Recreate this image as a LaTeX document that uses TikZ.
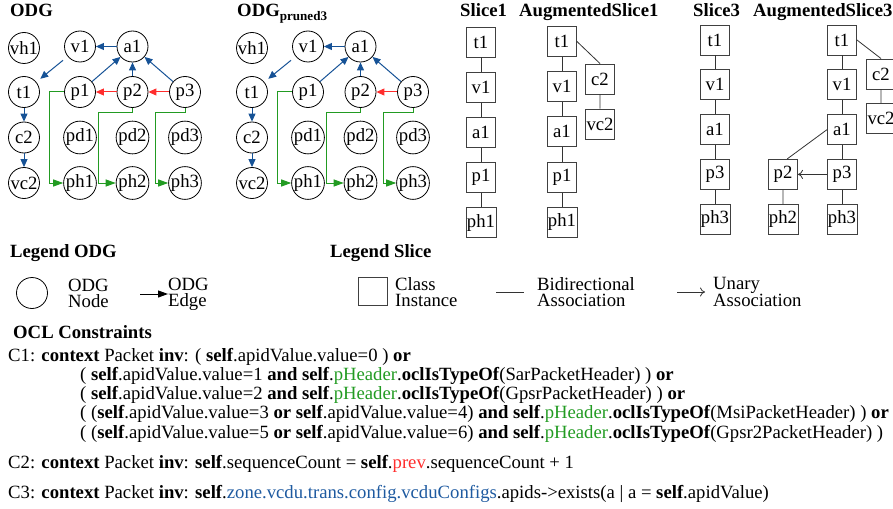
\documentclass[tikz,border=0pt]{standalone}
\usepackage{fontspec}
\setmainfont{Liberation Serif}
\usepackage{xcolor}
\usepackage{tikz}
\usetikzlibrary{arrows.meta, positioning}
\definecolor{odgblue}{RGB}{22,82,150}
\definecolor{odgred}{RGB}{255,45,45}
\definecolor{odggreen}{RGB}{34,155,34}
\definecolor{navblue}{RGB}{30,90,160}
\tikzstyle{odgnode}   = [circle, draw=black, line width=0.8pt,
    minimum size=31pt, inner sep=0pt]
\tikzstyle{slicebox}  = [rectangle, draw=black!75, line width=0.9pt,
    minimum width=29pt, minimum height=30pt, inner sep=1pt]
\tikzstyle{heading}   = [font=\fontsize{18.7}{19}\selectfont\bfseries,
    anchor=base west, inner sep=0pt]
\tikzstyle{legtext}   = [align=left, anchor=west, inner sep=0pt,
    font=\fontsize{18.7}{16}\selectfont]
\tikzstyle{ocl}       = [align=left, inner sep=0pt]
\tikzstyle{blueedge}  = [-{Triangle[length=8pt, width=7pt]}, odgblue, line width=1pt]
\tikzstyle{rededge}   = [-{Triangle[length=8pt, width=7pt]}, odgred, line width=1pt]
\tikzstyle{greenedge} = [-{Triangle[length=10pt, width=7pt]}, odggreen, line width=1pt]
\tikzstyle{odgarrow}  = [-{Triangle[length=10pt, width=7pt]}, black, line width=1pt]
\tikzstyle{assoc}     = [black!80, line width=0.8pt]
\tikzstyle{unary}     = [-{To[length=5pt, width=9pt]}, black!80, line width=0.8pt]

\begin{document}
\begin{tikzpicture}[x=1pt, y=-1pt, node distance=45.5pt and 52.5pt, on grid,
    every node/.style={font=\fontsize{18.7}{19.2}\selectfont}]
  \useasboundingbox (0,0) rectangle (893,508);

  % headings
  \node[heading] (odgtitle)  at (10,17)  {ODG};
  \node[heading] (prunedtitle) at (237,17) {ODG\textsubscript{pruned3}};
  \node[heading] (s1title)   at (460,17) {Slice1};
  \node[heading] (as1title)  at (519,17) {AugmentedSlice1};
  \node[heading] (s3title)   at (693,17) {Slice3};
  \node[heading] (as3title)  at (753,17) {AugmentedSlice3};

  % object dependency graphs
  \foreach \pre/\dx in {g/0, gp/228} {
    \begin{scope}[xshift=\dx pt, name prefix=\pre-]
      \node[odgnode] (t1) at (24,92) {t1};
      \node[odgnode, above=44pt of t1] (vh1) {vh1};
      \node[odgnode, below=of t1] (c2)  {c2};
      \node[odgnode, below=of c2] (vc2) {vc2};
      \node[odgnode, right=56pt of t1] (p1) {p1};
      \node[odgnode, right=of p1] (p2) {p2};
      \node[odgnode, right=of p2] (p3) {p3};
      \node[odgnode, above=of p1] (v1) {v1};
      \node[odgnode, above=of p2] (a1) {a1};
      \node[odgnode, below=of p1] (pd1) {pd1};
      \node[odgnode, below=of p2] (pd2) {pd2};
      \node[odgnode, below=of p3] (pd3) {pd3};
      \node[odgnode, below=of pd1] (ph1) {ph1};
      \node[odgnode, below=of pd2] (ph2) {ph2};
      \node[odgnode, below=of pd3] (ph3) {ph3};

      \draw[blueedge] (a1) -- (v1);
      \draw[blueedge, shorten <=6pt, shorten >=5pt] (v1) -- (t1);
      \draw[blueedge] (p1) -- (a1);
      \draw[blueedge] (p2) -- (a1);
      \draw[blueedge] (p3) -- (a1);
      \draw[blueedge] (t1) -- (c2);
      \draw[blueedge] (c2) -- (vc2);
      \draw[rededge] (p3) -- (p2);
      % header edges
      \draw[greenedge] (p1.west) -- ++(-14.5,0) |- (ph1.west);
      \draw[greenedge] (p2.south) |- ++(-34,4.5) |- (ph2.west);
      \draw[greenedge] (p3.south) |- ++(-30,4.5) |- (ph3.west);
    \end{scope}
  }
  \draw[rededge] (g-p2) -- (g-p1);

  % slices
  \begin{scope}[name prefix=s1-, node distance=45.2pt]
    \node[slicebox] (t1) at (481,42) {t1};
    \node[slicebox, below=of t1] (v1)  {v1};
    \node[slicebox, below=of v1] (a1)  {a1};
    \node[slicebox, below=of a1] (p1)  {p1};
    \node[slicebox, below=of p1] (ph1) {ph1};
    \draw[assoc] (t1) -- (v1) (v1) -- (a1) (a1) -- (p1) (p1) -- (ph1);
  \end{scope}
  \begin{scope}[name prefix=as1-, node distance=45.2pt]
    \node[slicebox] (t1) at (562,41.5) {t1};
    \node[slicebox, below=of t1] (v1)  {v1};
    \node[slicebox, below=of v1] (a1)  {a1};
    \node[slicebox, below=of a1] (p1)  {p1};
    \node[slicebox, below=of p1] (ph1) {ph1};
    \node[slicebox] (c2) at (600,79) {c2};
    \node[slicebox, below=of c2] (vc2) {vc2};
    \draw[assoc] (t1) -- (v1) (v1) -- (a1) (a1) -- (p1) (p1) -- (ph1);
    \draw[assoc] (t1.east) -- (c2.north) (c2) -- (vc2);
  \end{scope}
  \begin{scope}[name prefix=s3-, node distance=44.8pt]
    \node[slicebox] (t1) at (715,40) {t1};
    \node[slicebox, below=of t1] (v1)  {v1};
    \node[slicebox, below=of v1] (a1)  {a1};
    \node[slicebox, below=of a1] (p3)  {p3};
    \node[slicebox, below=of p3] (ph3) {ph3};
    \draw[assoc] (t1) -- (v1) (v1) -- (a1) (a1) -- (p3) (p3) -- (ph3);
  \end{scope}
  \begin{scope}[name prefix=as3-, node distance=44.8pt and 59pt]
    \node[slicebox] (t1) at (842,40) {t1};
    \node[slicebox, below=of t1] (v1)  {v1};
    \node[slicebox, below=of v1] (a1)  {a1};
    \node[slicebox, below=of a1] (p3)  {p3};
    \node[slicebox, below=of p3] (ph3) {ph3};
    \node[slicebox] (c2) at (881,74) {c2};
    \node[slicebox, below=of c2] (vc2) {vc2};
    \node[slicebox, left=of p3] (p2)  {p2};
    \node[slicebox, below=of p2] (ph2) {ph2};
    \draw[assoc] (t1) -- (v1) (v1) -- (a1) (a1) -- (p3) (p3) -- (ph3);
    \draw[assoc] (t1.east) -- (c2.north) (c2) -- (vc2);
    \draw[assoc] (a1.west) -- (p2.75) (p2) -- (ph2);
    \draw[unary] (p3) -- (p2);
  \end{scope}

  % legend
  \node[heading] (legodg) at (10,257) {Legend ODG};
  \node[odgnode] (legnode) at (32,293) {};
  \node[legtext] (legnodetxt) at (68,293) {ODG\\Node};
  \coordinate (legedgeA) at (140,294);
  \node[legtext] (legedgetxt) at (168,294) {ODG\\Edge};
  \draw[odgarrow] (legedgeA) -- (legedgetxt.west);

  \node[heading] (legslice) at (330,257) {Legend Slice};
  \node[slicebox, minimum height=28pt] (legbox) at (372.5,291) {};
  \node[legtext] (legboxtxt) at (395,292) {Class\\Instance};
  \coordinate (legbiA) at (496,292);
  \coordinate (legbiB) at (524,292);
  \draw[assoc] (legbiA) -- (legbiB);
  \node[legtext] (legbitxt) at (537,292) {Bidirectional\\Association};
  \coordinate (legunA) at (677,292);
  \coordinate (legunB) at (705,292);
  \draw[unary] (legunA) -- (legunB);
  \node[legtext] (leguntxt) at (713,292) {Unary\\Association};

  % constraints
  \node[heading] (ocltitle) at (13,338) {OCL Constraints};
  \node[ocl, anchor=north west] (c1) at (8,348) {C1: \textbf{context} Packet \textbf{inv}: ( \textbf{self}.apidValue.value=0 ) \textbf{or}\\
    \hspace*{72pt}( \textbf{self}.apidValue.value=1 \textbf{and self}.\textcolor{odggreen}{pHeader}.\textbf{oclIsTypeOf}(SarPacketHeader) ) \textbf{or}\\
    \hspace*{72pt}( \textbf{self}.apidValue.value=2 \textbf{and self}.\textcolor{odggreen}{pHeader}.\textbf{oclIsTypeOf}(GpsrPacketHeader) ) \textbf{or}\\
    \hspace*{72pt}( (\textbf{self}.apidValue.value=3 \textbf{or self}.apidValue.value=4) \textbf{and self}.\textcolor{odggreen}{pHeader}.\textbf{oclIsTypeOf}(MsiPacketHeader) ) \textbf{or}\\
    \hspace*{72pt}( (\textbf{self}.apidValue.value=5 \textbf{or self}.apidValue.value=6) \textbf{and self}.\textcolor{odggreen}{pHeader}.\textbf{oclIsTypeOf}(Gpsr2PacketHeader) )};
  \node[ocl, anchor=base west] (c2) at (8,468) {C2: \textbf{context} Packet \textbf{inv}: \textbf{self}.sequenceCount = \textbf{self}.\textcolor{odgred}{prev}.sequenceCount + 1};
  \node[ocl, anchor=base west] (c3) at (8,498) {C3: \textbf{context} Packet \textbf{inv}: \textbf{self}.\textcolor{navblue}{zone.vcdu.trans.config.vcduConfigs}.apids->exists(a | a = \textbf{self}.apidValue)};
\end{tikzpicture}
\end{document}
